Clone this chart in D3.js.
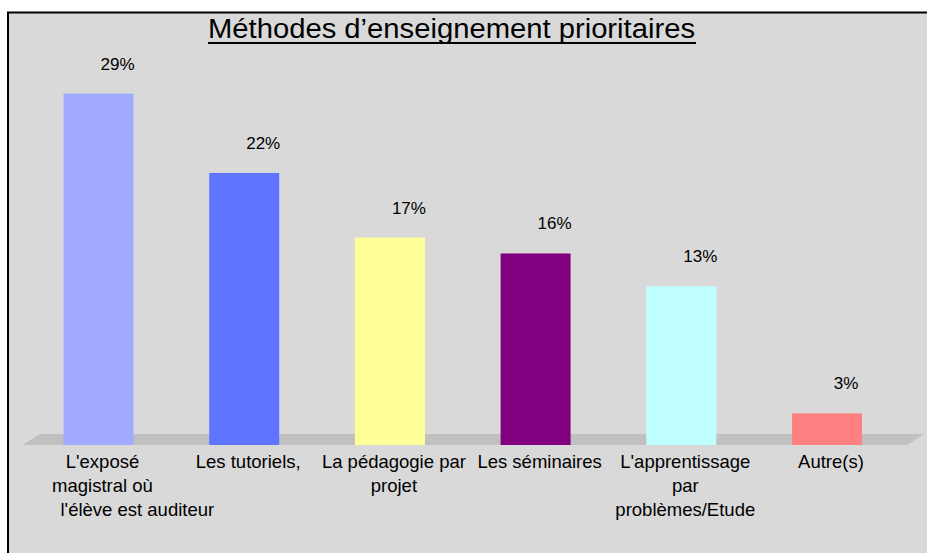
<!DOCTYPE html>
<html>
<head>
<meta charset="utf-8">
<script src="https://cdn.jsdelivr.net/npm/d3@7"></script>
<style>
body { margin: 0; background: #fff; }
svg text { font-family: Arial, "Liberation Sans", sans-serif; fill: #000; }
</style>
</head>
<body>
<div class="container"></div>
<script>

var categories = ["expose", "tutoriels", "pedagogie", "seminaires", "apprentissage", "autres"];
var labelLines = [
	["L'exposé", "magistral où", "l'élève est auditeur"],
	["Les tutoriels,"],
	["La pédagogie par", "projet"],
	["Les séminaires"],
	["L'apprentissage", "par", "problèmes/Etude"],
	["Autre(s)"]
];
var values = [28.8, 22.3, 17.0, 15.7, 13.0, 2.6];
var colors = ["#a0abff", "#6075ff", "#ffff99", "#800080", "#c0ffff", "#ff8080"];
var title = "Méthodes d’enseignement prioritaires";

var W = 927, H = 553;

function makeStage(w, h) {
	var stage = d3.select(".container")
		.append("svg")
		.attr("width", w)
		.attr("height", h);
	return stage;
}

var svg = makeStage(W, H);

// frame
svg.append("rect")
	.attr("x", 8).attr("y", 12.5)
	.attr("width", W + 10).attr("height", H + 10)
	.style("fill", "#d9d9d9")
	.style("stroke", "#000")
	.style("stroke-width", 2);

var x = d3.scalePoint().domain(categories).range([98.5, 827]);
var y = d3.scaleLinear().domain([0, 30]).range([445, 79]);
var barW = 70;

// floor
var fy0 = y(0), fy1 = y(0) - 11;
svg.append("path")
	.attr("d", "M22," + fy0 + "L40," + fy1 + "L924," + fy1 + "L907," + fy0 + "Z")
	.style("fill", "#c0c0c0");

// bars
svg.selectAll("rect.bar")
	.data(values)
	.enter().append("rect")
	.attr("class", "bar")
	.attr("x", function(d, i) { return x(categories[i]) - barW / 2; })
	.attr("y", function(d) { return y(d); })
	.attr("width", barW)
	.attr("height", function(d) { return y(0) - y(d); })
	.style("fill", function(d, i) { return colors[i]; });

// value labels
svg.selectAll("text.val")
	.data(values)
	.enter().append("text")
	.attr("class", "val")
	.attr("x", function(d, i) { return x(categories[i]) + 19; })
	.attr("y", function(d) { return y(d) - 24; })
	.attr("text-anchor", "middle")
	.style("font-size", "17px")
	.text(function(d) { return Math.round(d) + "%"; });

// category labels
categories.forEach(function(c, i) {
	var cx = x(c) + 4;
	labelLines[i].forEach(function(line, j) {
		var t = svg.append("text")
			.attr("x", cx)
			.attr("y", 468 + j * 24)
			.attr("text-anchor", "middle")
			.style("font-size", "18.5px")
			.text(line);
		// long lines overflow to the right like in the original
		if (t.node().getComputedTextLength() > 150) {
			t.attr("text-anchor", "start").attr("x", cx - 42);
		}
	});
});

// title
var tt = svg.append("text")
	.attr("x", 451.5)
	.attr("y", 38)
	.attr("text-anchor", "middle")
	.style("font-size", "27px")
	.attr("textLength", 487)
	.attr("lengthAdjust", "spacingAndGlyphs")
	.text(title);
svg.append("line")
	.attr("x1", 208).attr("x2", 696)
	.attr("y1", 43).attr("y2", 43)
	.style("stroke", "#000")
	.style("stroke-width", 2);

</script>
</body>
</html>
